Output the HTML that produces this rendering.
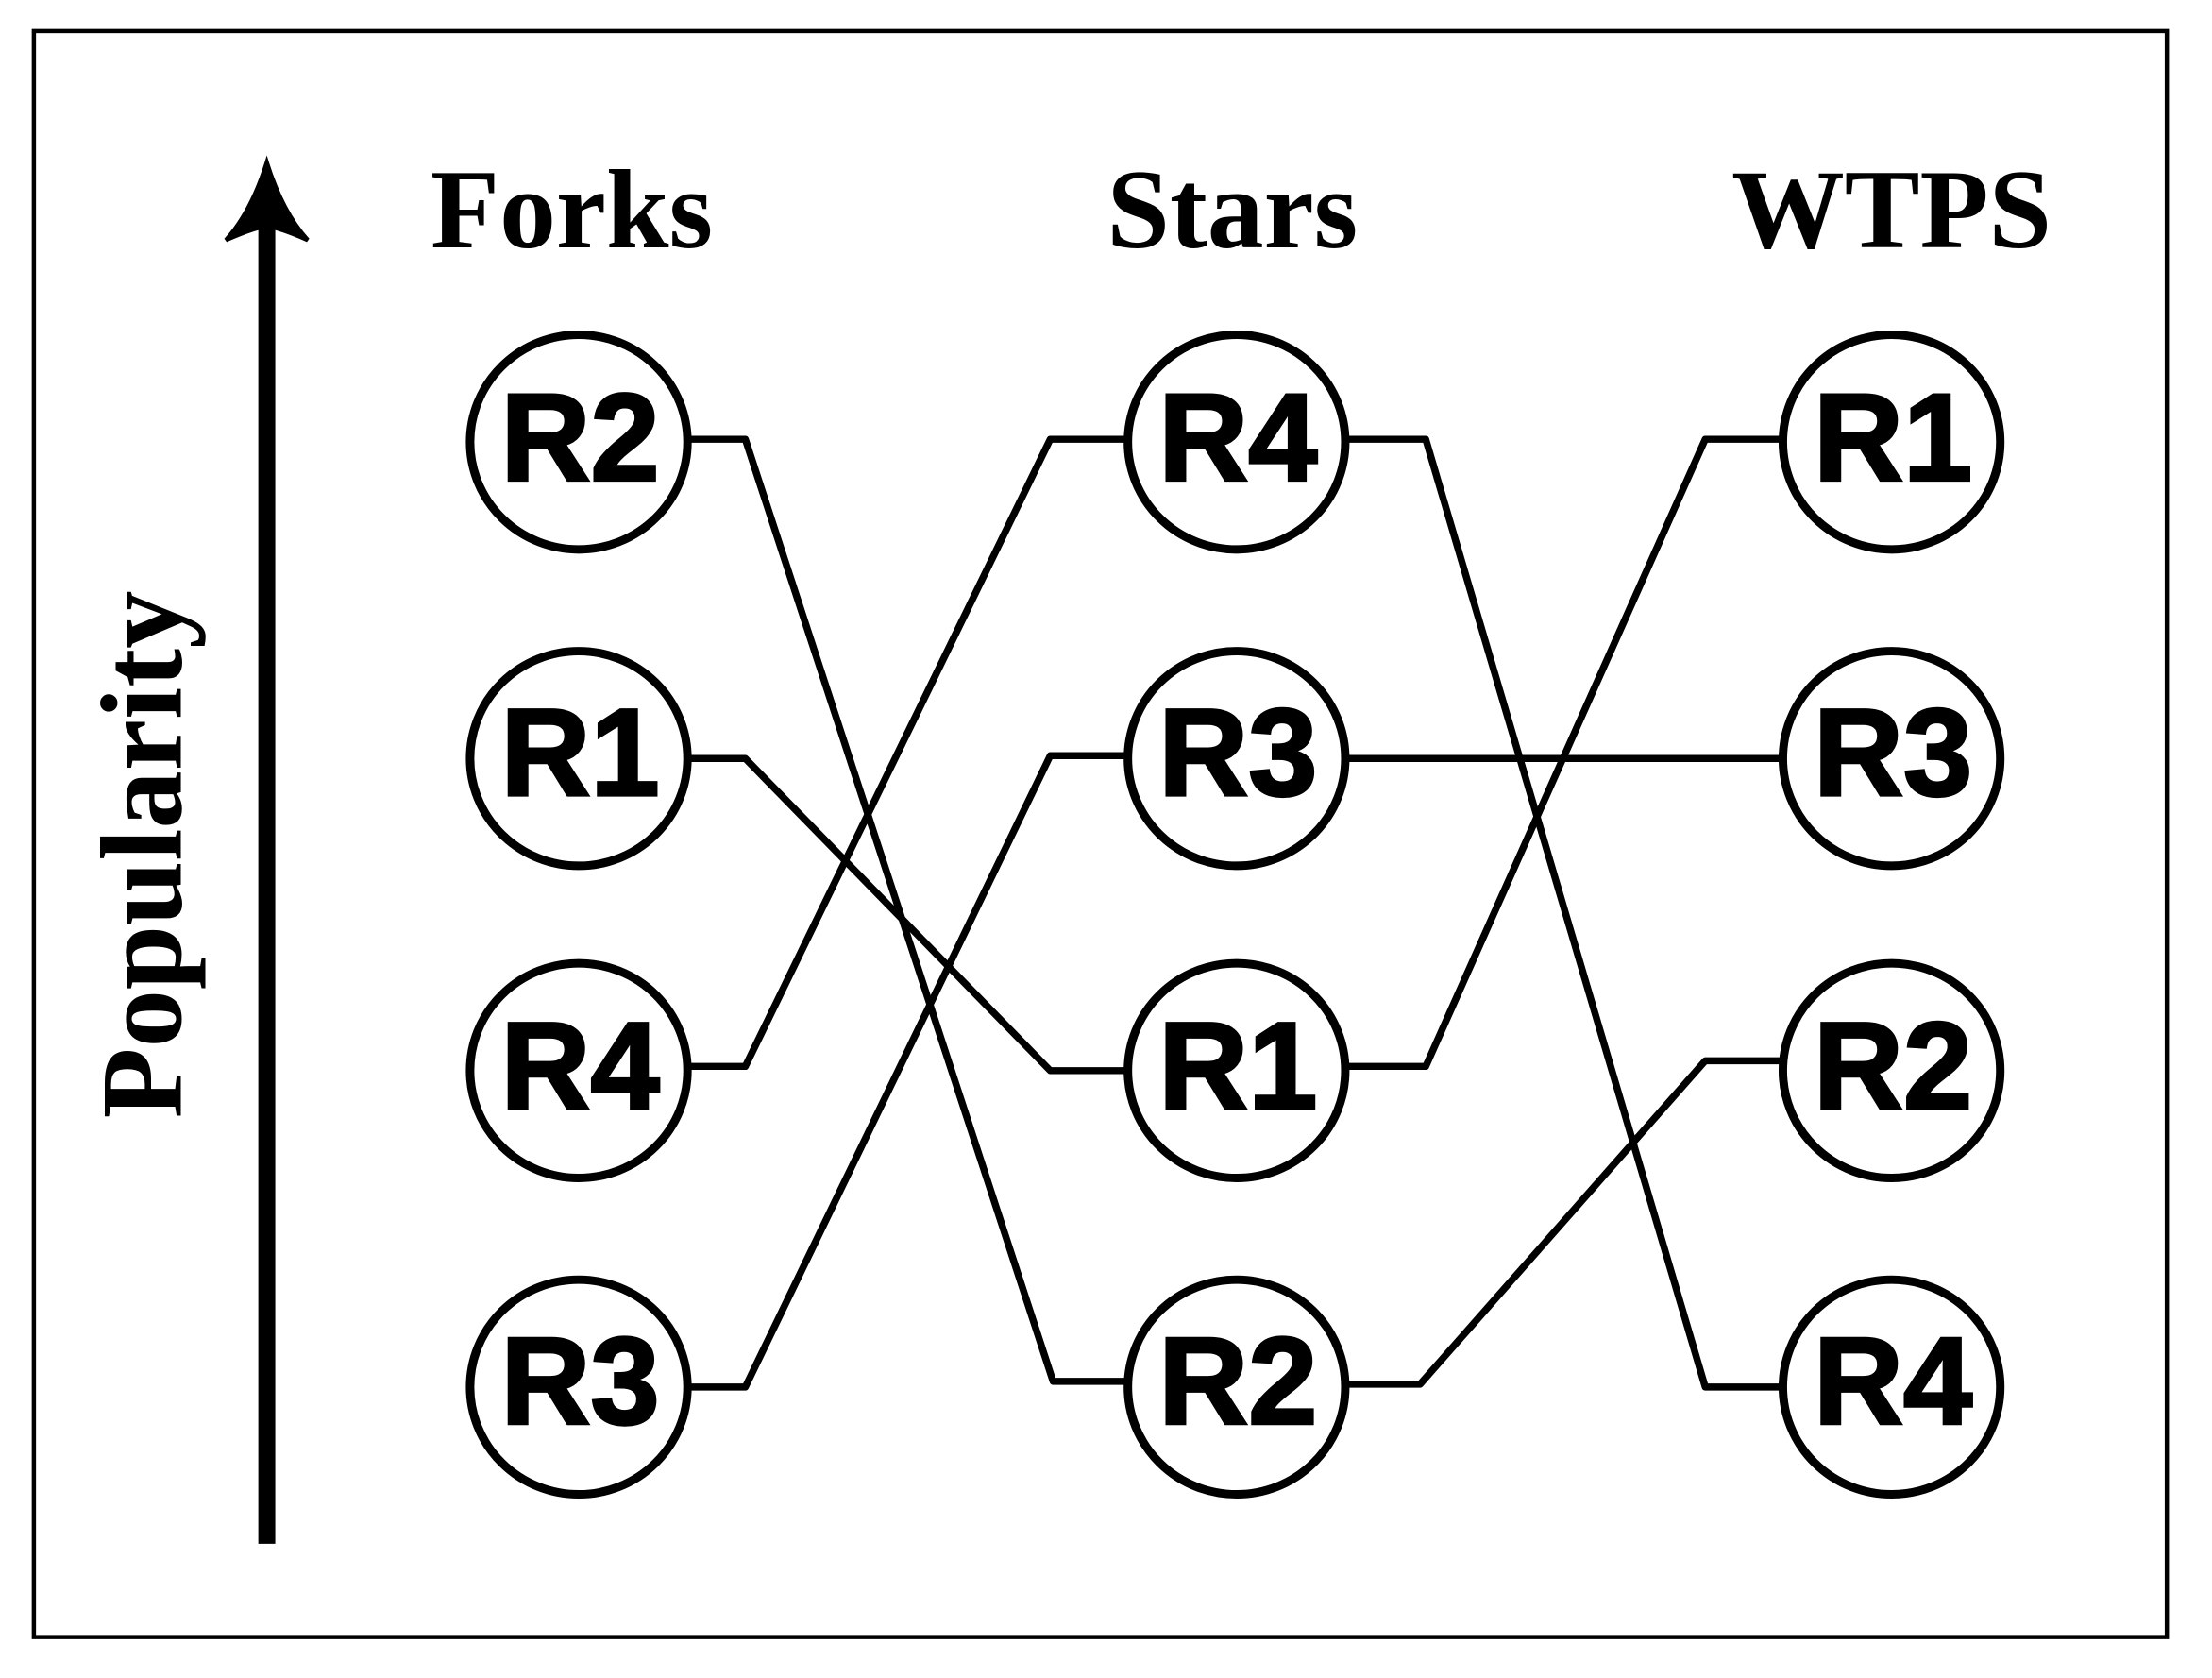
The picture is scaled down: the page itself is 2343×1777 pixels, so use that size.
<!DOCTYPE html>
<html><head><meta charset="utf-8"><style>html,body{margin:0;padding:0;background:#fff}svg{display:block}</style></head>
<body>
<svg width="2343" height="1777" viewBox="0 0 1567 1188" preserveAspectRatio="none" xmlns="http://www.w3.org/2000/svg">
<rect x="24" y="22" width="1511" height="1137" fill="#fff" stroke="#000" stroke-width="3"/>
<line x1="189" y1="1093" x2="189" y2="150" stroke="#000" stroke-width="12"/>
<path d="M189,115 Q200,150 218,170 Q200,162 189,160 Q178,162 160,170 Q178,150 189,115 Z" fill="#000" stroke="#000" stroke-width="3"/>
<text transform="translate(128,605) rotate(-90)" text-anchor="middle" font-family="Liberation Serif, serif" font-weight="bold" font-size="82" fill="#000">Popularity</text>
<g font-family="Liberation Serif, serif" font-weight="bold" font-size="80" text-anchor="middle" fill="#000">
<text x="405" y="175">Forks</text><text x="873" y="175">Stars</text><text x="1340" y="175">WTPS</text>
</g>
<g fill="none" stroke="#000" stroke-width="5" stroke-linejoin="round">
<polyline points="488,311 528,311 746,978 800,978"/>
<polyline points="488,537 528,537 744,758 800,758"/>
<polyline points="488,755 528,755 744,311 800,311"/>
<polyline points="488,982 528,982 744,535 800,535"/>
<polyline points="952,311 1010,311 1208,982 1264,982"/>
<polyline points="952,537 1264,537"/>
<polyline points="952,755 1010,755 1208,311 1264,311"/>
<polyline points="952,980 1006,980 1208,751 1264,751"/>
</g>
<g fill="#fff" stroke="#000" stroke-width="6">
<ellipse cx="410" cy="313" rx="77" ry="76"/><ellipse cx="410" cy="537" rx="77" ry="76"/><ellipse cx="410" cy="758" rx="77" ry="76"/><ellipse cx="410" cy="982" rx="77" ry="76"/>
<ellipse cx="876" cy="313" rx="77" ry="76"/><ellipse cx="876" cy="537" rx="77" ry="76"/><ellipse cx="876" cy="758" rx="77" ry="76"/><ellipse cx="876" cy="982" rx="77" ry="76"/>
<ellipse cx="1340" cy="313" rx="77" ry="76"/><ellipse cx="1340" cy="537" rx="77" ry="76"/><ellipse cx="1340" cy="758" rx="77" ry="76"/><ellipse cx="1340" cy="982" rx="77" ry="76"/>
</g>
<g font-family="Liberation Sans, sans-serif" font-weight="bold" font-size="88" text-anchor="middle" fill="#000" stroke="#000" stroke-width="2">
<text x="411" y="340">R2</text><text x="411" y="563">R1</text><text x="411" y="785">R4</text><text x="411" y="1008">R3</text>
<text x="877" y="340">R4</text><text x="877" y="563">R3</text><text x="877" y="785">R1</text><text x="877" y="1008">R2</text>
<text x="1341" y="340">R1</text><text x="1341" y="563">R3</text><text x="1341" y="785">R2</text><text x="1341" y="1008">R4</text>
</g>
</svg>
</body></html>
